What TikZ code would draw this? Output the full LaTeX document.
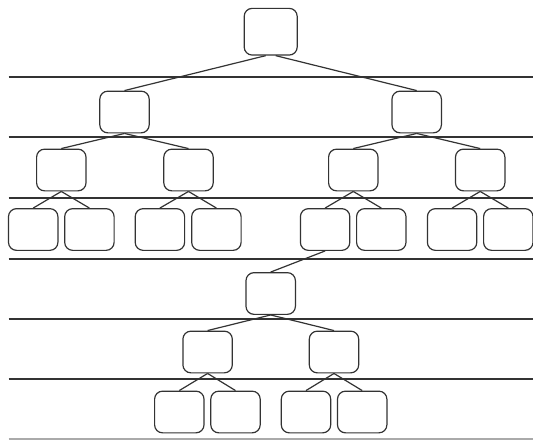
\documentclass[tikz,border=0pt]{standalone}
\usepackage{tikz}
\usetikzlibrary{positioning}
\definecolor{linegray}{HTML}{333333}
\definecolor{basegray}{HTML}{AAAAAA}

\begin{document}
\begin{tikzpicture}[x=1pt, y=-1pt,
        line width=1.2pt,
        color=linegray,
        box/.style={draw=linegray,
            rounded corners=8pt,
            inner sep=0pt,
            minimum width=49.4pt,
            minimum height=41.7pt},
        rootbox/.style={box, minimum width=53pt, minimum height=46.7pt},
        level/.style={draw=linegray, line width=1.1pt}]
        \useasboundingbox (0,0) rectangle (533,440);
        % separators
        \draw[level] (8.5,77) -- (533,77);
        \draw[level] (8.5,137) -- (533,137);
        \draw[level] (8.5,198) -- (533,198);
        \draw[level] (8.5,259) -- (533,259);
        \draw[level] (8.5,319) -- (533,319);
        \draw[level] (8.5,379) -- (533,379);
        \draw[level, draw=basegray] (8.5,439) -- (533,439);
        % upper tree
        \node[rootbox] (t) at (270.7,31.7) {};
        \node[box] (l) at (124.5,112) {};
        \node[box] (r) at (416.7,112) {};
        \node[box] (ll) at (61.3,170) {};
        \node[box] (lr) at (188.5,170) {};
        \node[box] (rl) at (353.3,170) {};
        \node[box] (rr) at (480.2,170) {};
        \node[box] (lll) at (33.2,229.5) {};
        \node[box] (llr) at (89.4,229.5) {};
        \node[box] (lrl) at (159.9,229.5) {};
        \node[box] (lrr) at (216.4,229.5) {};
        \node[box] (rll) at (325.1,229.5) {};
        \node[box] (rlr) at (381.3,229.5) {};
        \node[box] (rrl) at (452.1,229.5) {};
        \node[box] (rrr) at (508.3,229.5) {};
        % lower tree
        \node[box] (m) at (270.7,293.5) {};
        \node[box] (ml) at (207.6,352) {};
        \node[box] (mr) at (334,352) {};
        \node[box] (mll) at (179.3,412) {};
        \node[box] (mlr) at (235.5,412) {};
        \node[box] (mrl) at (306,412) {};
        \node[box] (mrr) at (362.2,412) {};
        \draw ([xshift=-5pt]t.south) -- (l.north);
        \draw ([xshift=5pt]t.south) -- (r.north);
        \draw (l.south) -- (ll.north);
        \draw (l.south) -- (lr.north);
        \draw (r.south) -- (rl.north);
        \draw (r.south) -- (rr.north);
        \draw (ll.south) -- (lll.north);
        \draw (ll.south) -- (llr.north);
        \draw (lr.south) -- (lrl.north);
        \draw (lr.south) -- (lrr.north);
        \draw (rl.south) -- (rll.north);
        \draw (rl.south) -- (rlr.north);
        \draw (rr.south) -- (rrl.north);
        \draw (rr.south) -- (rrr.north);
        \draw (rll.south) -- (m.north);
        \draw (m.south) -- (ml.north);
        \draw (m.south) -- (mr.north);
        \draw (ml.south) -- (mll.north);
        \draw (ml.south) -- (mlr.north);
        \draw (mr.south) -- (mrl.north);
        \draw (mr.south) -- (mrr.north);
    \end{tikzpicture}
\end{document}
